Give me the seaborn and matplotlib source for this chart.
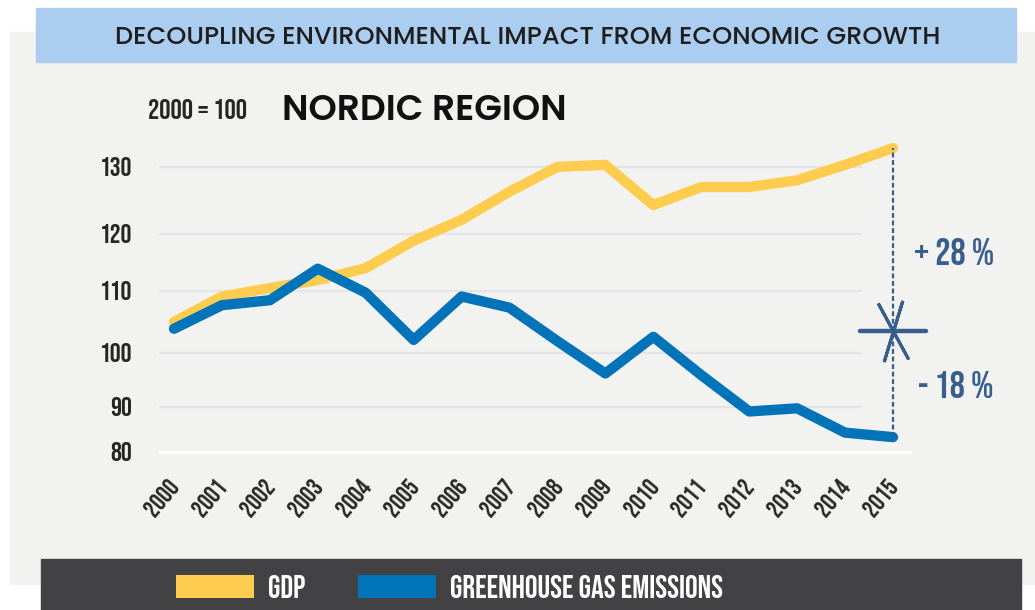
import numpy as np
import pandas as pd
import seaborn as sns
import matplotlib
matplotlib.use('Agg')
import matplotlib.pyplot as plt
from matplotlib import font_manager as fm
from matplotlib.patches import Rectangle, Patch
from matplotlib.markers import MarkerStyle
from matplotlib.ticker import NullLocator

# values (index, 2000 = 100)
YEARS = list(range(2000, 2016))
GDP = [105.0, 109.1, 110.5, 111.9, 114.0, 118.8, 122.1, 126.3,
       130.0, 130.3, 124.3, 127.0, 127.0, 128.0, 130.3, 132.8]
GHG = [103.9, 107.7, 108.5, 113.9, 109.7, 102.1, 109.1, 107.3,
       101.9, 96.2, 102.6, 95.9, 89.0, 89.7, 84.3, 83.3]
SERIES = ['GDP', 'GREENHOUSE GAS EMISSIONS']
Y_TICKS = [80, 90, 100, 110, 120, 130]
CHANGE_LABELS = ['+ 28 %', '- 18 %']
HEADER = 'DECOUPLING ENVIRONMENTAL IMPACT FROM ECONOMIC GROWTH'
TITLE = 'NORDIC REGION'
BASE_NOTE = '2000 = 100'
CROSS_LEVEL = 103.6

# the infographic spaces its gridlines unevenly: height (px) of each tick above the 80 line
TICK_HEIGHTS = [0, 45, 99, 161, 218, 285]

YELLOW = '#fecd50'
BLUE = '#0073b9'
SLATE = '#385e8d'
PANEL = '#f2f2f0'
BANNER = '#abcef0'
DARK = '#424244'
GRID = '#e3e3e8'


def _weight(w):
    return w if isinstance(w, int) else fm.weight_dict.get(str(w), 400)


def pick(names, weight=None):
    # first family that is installed (with a static face of the wanted weight)
    for n in names:
        ws = {_weight(f.weight) for f in fm.fontManager.ttflist if f.name == n}
        if ws and (weight is None or weight in ws):
            return n
    return None


COND = pick(['Bebas Neue', 'League Gothic', 'Oswald', 'Roboto Condensed'])
if COND:
    NARROW = dict(family=COND, weight='bold')
else:
    NARROW = dict(family='DejaVu Sans', stretch='condensed', weight='bold')
GEO = ['Montserrat', 'Poppins', 'Work Sans', 'Raleway', 'Lato']
GEO_SEMI = pick(GEO, 600)
GEO_MED = pick(GEO, 500)
if GEO_SEMI:
    title_kw = dict(family=GEO_SEMI, fontweight=600)
else:
    title_kw = dict(family='DejaVu Sans', fontweight='bold')
if GEO_MED:
    head_kw = dict(family=GEO_MED, fontweight=500)
else:
    head_kw = dict(family='DejaVu Sans', fontweight='normal')


def _piecewise(v, xs, ys):
    v = np.asarray(v, dtype=float)
    out = np.interp(v, xs, ys)
    lo = (ys[1] - ys[0]) / (xs[1] - xs[0])
    hi = (ys[-1] - ys[-2]) / (xs[-1] - xs[-2])
    out = np.where(v < xs[0], ys[0] + (v - xs[0]) * lo, out)
    out = np.where(v > xs[-1], ys[-1] + (v - xs[-1]) * hi, out)
    return out


def to_height(v):
    return _piecewise(v, Y_TICKS, TICK_HEIGHTS)


def from_height(h):
    return _piecewise(h, TICK_HEIGHTS, Y_TICKS)


sns.set_style('white')
plt.rcParams['font.family'] = ['DejaVu Sans']

W, H = 1035, 610


def fx(px):
    return px / W


def fy(py):
    return 1 - py / H


fig = plt.figure(figsize=(W / 100, H / 100), dpi=100, facecolor='white')
renderer = fig.canvas.get_renderer()


def size_for(text, target_px, **kw):
    # font size that makes `text` about target_px wide
    t = fig.text(0, 0, text, fontsize=10, **kw)
    w = t.get_window_extent(renderer=renderer).width
    t.remove()
    return 10 * target_px / w


# background blocks
fig.add_artist(Rectangle((fx(10), fy(584)), fx(1035) - fx(10), fy(32) - fy(584),
                         transform=fig.transFigure, color=PANEL, zorder=-10))
fig.add_artist(Rectangle((fx(36), fy(62)), fx(1016) - fx(36), fy(8) - fy(62),
                         transform=fig.transFigure, color=BANNER, zorder=-9))
fig.add_artist(Rectangle((fx(41), fy(610)), fx(1021) - fx(41), fy(559) - fy(610),
                         transform=fig.transFigure, color=DARK, zorder=-9))

ax = fig.add_axes([fx(159), fy(470), fx(912) - fx(159), fy(130) - fy(470)])
ax.set_facecolor('none')
ax.set_yscale('function', functions=(to_height, from_height))

df = pd.DataFrame({
    'year': YEARS * 2,
    'value': GDP + GHG,
    'series': [SERIES[0]] * len(YEARS) + [SERIES[1]] * len(YEARS),
})
sns.lineplot(data=df, x='year', y='value', hue='series', hue_order=SERIES,
             palette=[YELLOW, BLUE], linewidth=7.4, legend=False, ax=ax,
             solid_capstyle='round', zorder=2)

for t in Y_TICKS[1:]:
    ax.axhline(t, xmax=(861 - 159) / (912 - 159), color=GRID, lw=1.6, zorder=0)
ax.axhline(Y_TICKS[0], color='white', lw=2.2, zorder=0)

ax.set_xlim(YEARS[0] - 15 / 47.93, YEARS[-1] + 19 / 47.93)
ax.set_ylim(76, 135.5)
ax.set(xlabel='', ylabel='')
sns.despine(ax=ax, left=True, bottom=True)

ax.set_xticks(YEARS)
ax.set_xticklabels([str(y) for y in YEARS], rotation=50, ha='right', va='center',
                   rotation_mode='anchor', fontsize=size_for('2000', 40, **NARROW), **NARROW)
ax.set_yticks(Y_TICKS)
ax.set_yticklabels([str(t) for t in Y_TICKS], fontsize=size_for('130', 33, **NARROW), **NARROW)
ax.yaxis.set_minor_locator(NullLocator())
ax.tick_params(axis='both', length=0)
ax.tick_params(axis='y', pad=19.5)
ax.tick_params(axis='x', pad=8)

# change marker at the last year
ax.plot([YEARS[-1], YEARS[-1]], [GHG[-1], GDP[-1]], color=SLATE, lw=1.6,
        linestyle=(0, (2.2, 1.2)), zorder=4)
ax.plot([YEARS[-1]], [CROSS_LEVEL], marker=MarkerStyle('_', capstyle='round'), ms=47.5,
        mew=3.2, color=SLATE, clip_on=False, zorder=5)
for angle in (28.5, -17):
    ax.plot([YEARS[-1]], [CROSS_LEVEL], marker=MarkerStyle((2, 2, angle), capstyle='round'),
            ms=46, mew=2.2, color=SLATE, clip_on=False, zorder=5)
pct_size = size_for(CHANGE_LABELS[0], 80, **NARROW)
for label, dy in zip(CHANGE_LABELS, (56.9, -39.1)):
    ax.annotate(label, xy=(YEARS[-1], CROSS_LEVEL), xytext=(72.7, dy),
                textcoords='offset points', ha='right', va='center', color=SLATE,
                fontsize=pct_size, annotation_clip=False, **NARROW)

# titles
fig.text(fx(527.5), fy(38), HEADER, ha='center', va='center', color='#1f1f1f',
         fontsize=size_for(HEADER, 825, **head_kw), **head_kw)
fig.text(fx(148), fy(109), BASE_NOTE, ha='left', va='center',
         fontsize=size_for(BASE_NOTE, 100, **NARROW), **NARROW)
fig.text(fx(282), fy(111), TITLE, ha='left', va='center', color='#111111',
         fontsize=size_for(TITLE, 286, **title_kw), **title_kw)

# legend in the dark band
handles = [Patch(facecolor=c, edgecolor='none') for c in (YELLOW, BLUE)]
leg_size = size_for(SERIES[1], 276, **NARROW)
leg_px = leg_size / 72 * 100
fig.legend(handles, SERIES, loc='center left', bbox_to_anchor=(fx(176), fy(586.5)),
           ncol=2, frameon=False, borderpad=0, borderaxespad=0,
           handlelength=78 / leg_px, handleheight=23 / leg_px, handletextpad=14 / leg_px,
           columnspacing=53 / leg_px, prop=dict(size=leg_size, **NARROW), labelcolor='white')

fig.savefig('out.png', dpi=100, facecolor='white')
